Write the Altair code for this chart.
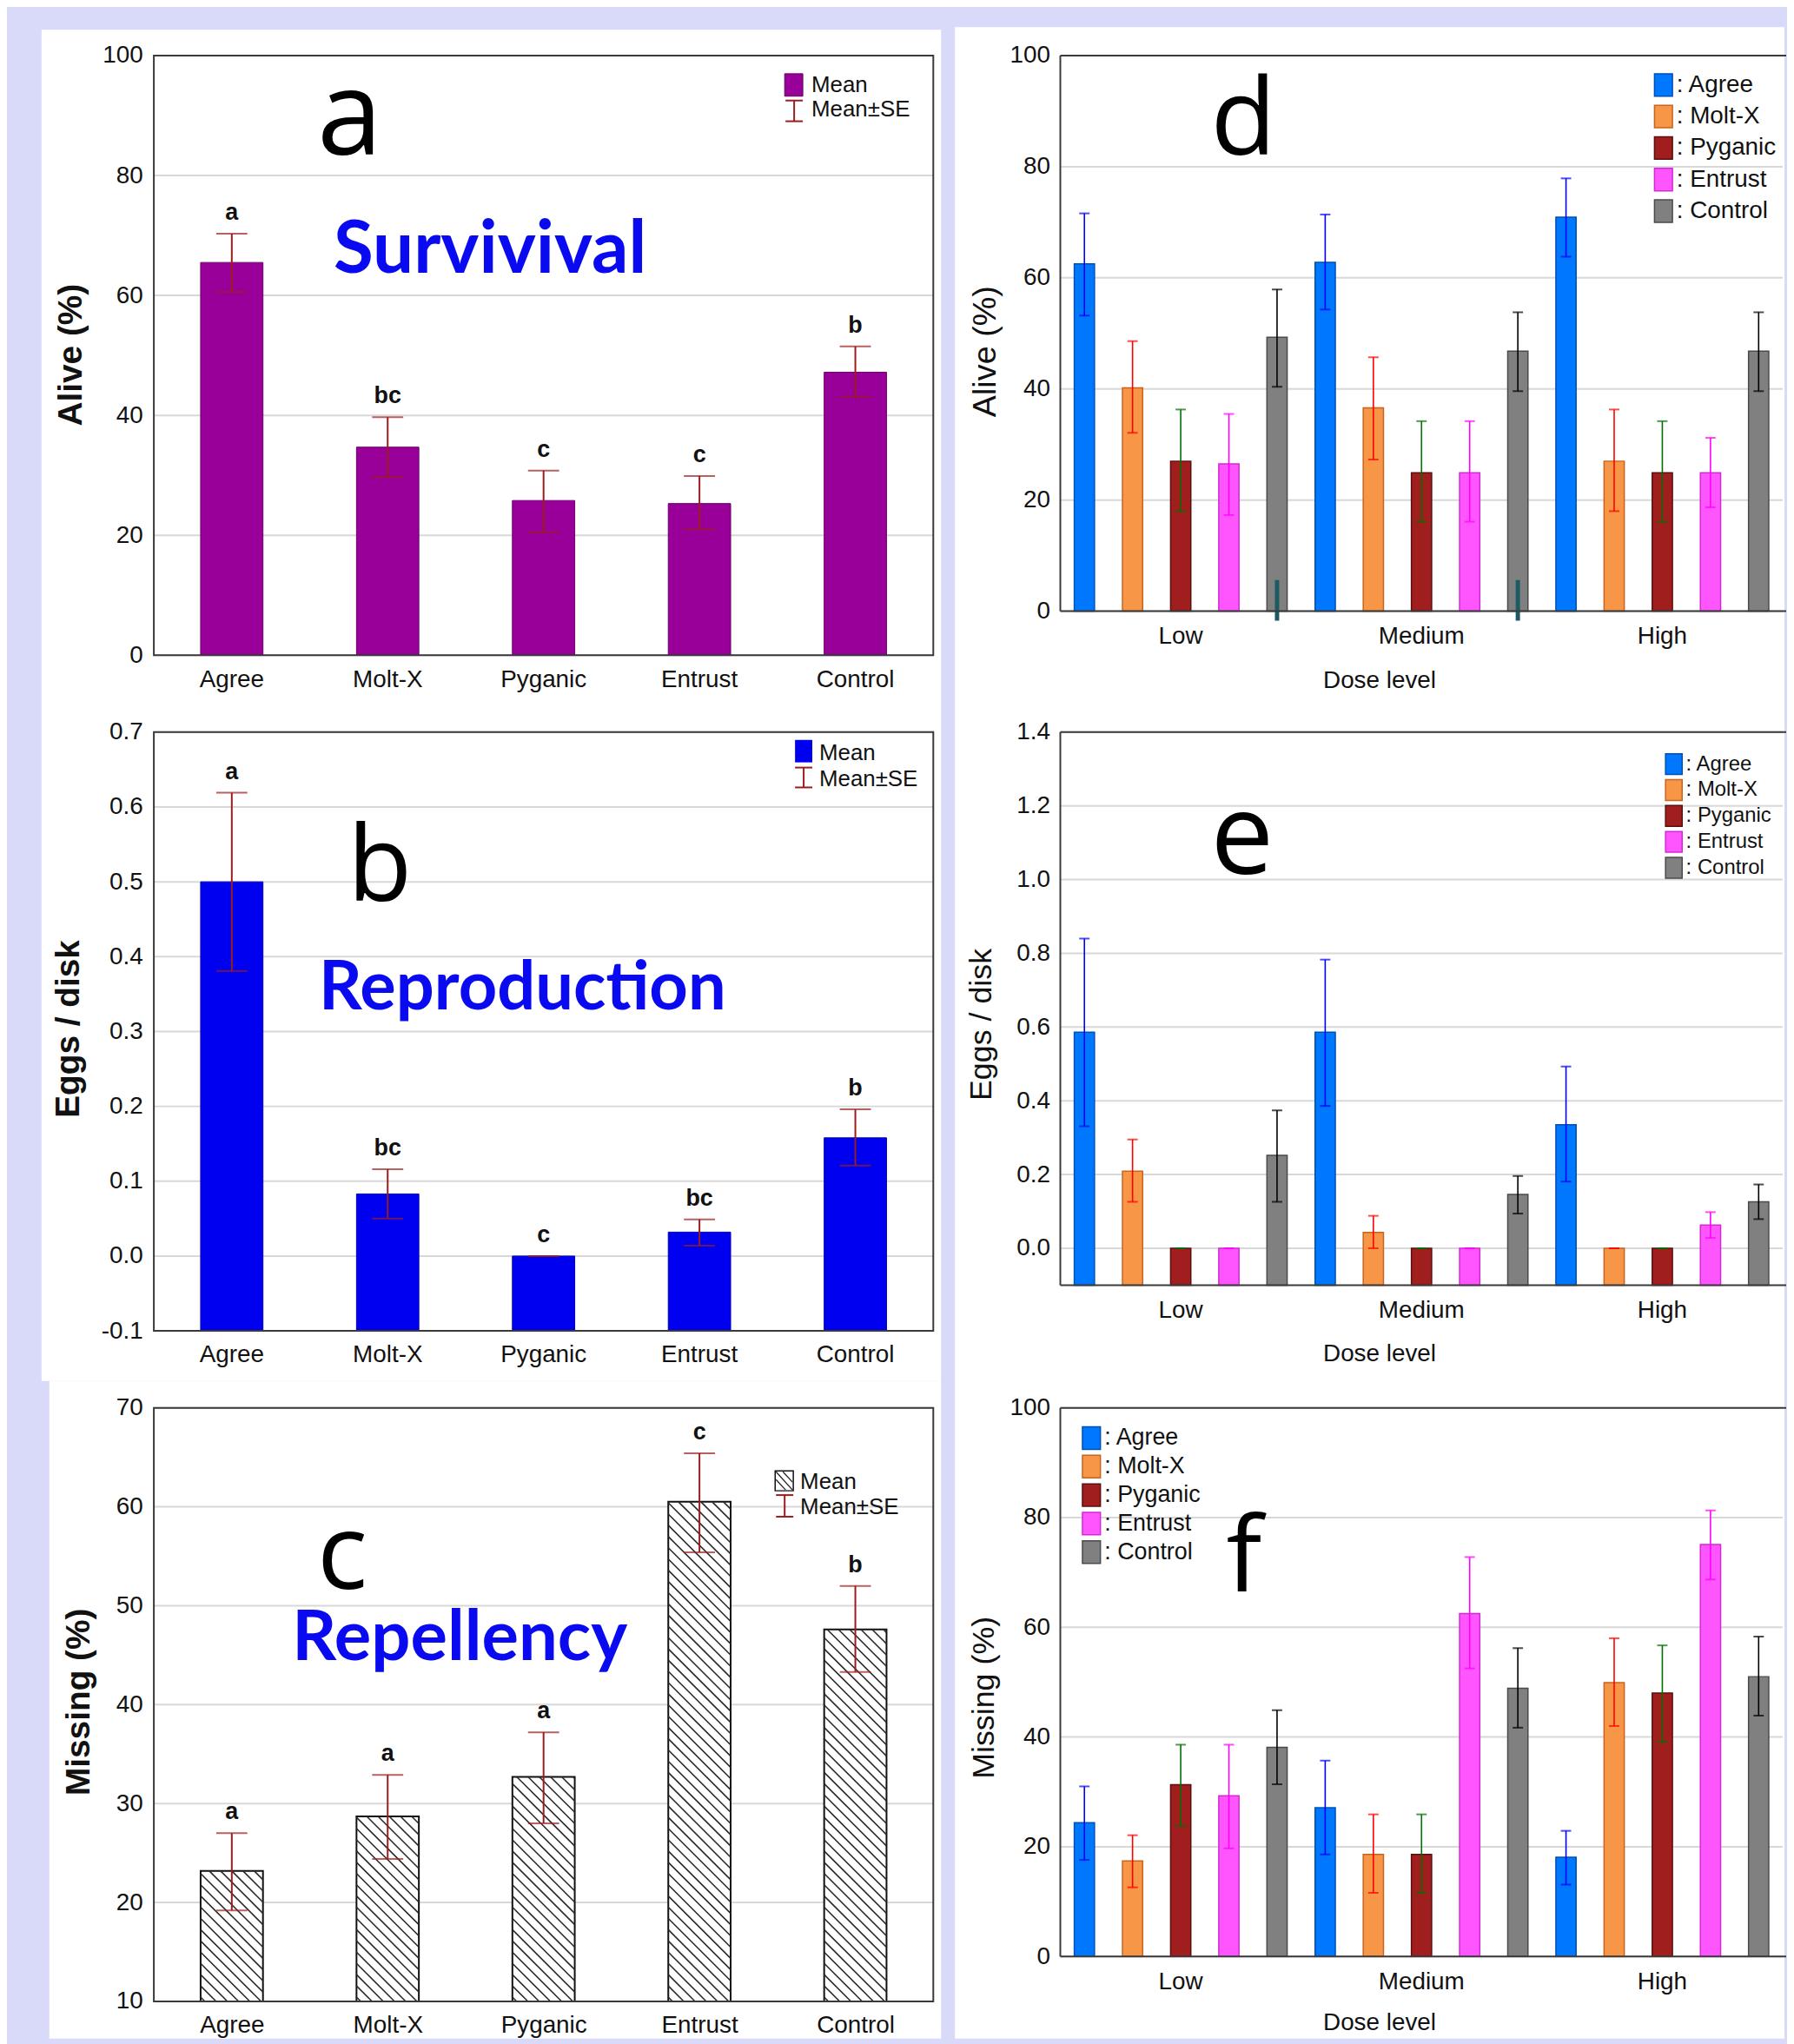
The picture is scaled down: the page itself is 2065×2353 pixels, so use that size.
import json
import altair as alt
import pandas as pd

# ---------------- data ----------------
treat = ["Agree", "Molt-X", "Pyganic", "Entrust", "Control"]
doses = ["Low", "Medium", "High"]

a_mean = [65.5, 34.7, 25.8, 25.3, 47.2]
a_lo = [60.6, 29.7, 20.5, 21.0, 43.1]
a_hi = [70.3, 39.7, 30.8, 29.9, 51.5]
a_letters = ["a", "bc", "c", "c", "b"]
a_ticks = [0, 20, 40, 60, 80, 100]

b_mean = [0.500, 0.083, 0.0, 0.032, 0.158]
b_lo = [0.381, 0.050, 0.0, 0.014, 0.121]
b_hi = [0.619, 0.116, 0.0, 0.049, 0.196]
b_letters = ["a", "bc", "c", "bc", "b"]
b_ticks = [-0.1, 0.0, 0.1, 0.2, 0.3, 0.4, 0.5, 0.6, 0.7]

c_mean = [23.2, 28.7, 32.7, 60.5, 47.6]
c_lo = [19.2, 24.4, 28.0, 55.4, 43.3]
c_hi = [27.0, 32.9, 37.2, 65.4, 52.0]
c_letters = ["a", "a", "a", "c", "b"]
c_ticks = [10, 20, 30, 40, 50, 60, 70]

# right panels: Low (5 treatments), Medium (5), High (5)
d_mean = [62.5, 40.2, 27.0, 26.5, 49.3, 62.8, 36.6, 24.9, 24.9, 46.8, 70.9, 27.0, 24.9, 24.9, 46.8]
d_lo = [53.2, 32.1, 18.0, 17.3, 40.4, 54.3, 27.3, 16.1, 16.1, 39.6, 63.8, 18.0, 16.1, 18.7, 39.6]
d_hi = [71.6, 48.6, 36.3, 35.5, 57.9, 71.4, 45.7, 34.2, 34.2, 53.8, 77.9, 36.3, 34.2, 31.2, 53.8]
d_ticks = [0, 20, 40, 60, 80, 100]

e_mean = [0.586, 0.209, 0.0, 0.0, 0.252, 0.586, 0.043, 0.0, 0.0, 0.146, 0.335, 0.0, 0.0, 0.063, 0.126]
e_lo = [0.331, 0.126, 0.0, 0.0, 0.126, 0.386, 0.0, 0.0, 0.0, 0.094, 0.181, 0.0, 0.0, 0.028, 0.079]
e_hi = [0.840, 0.295, 0.0, 0.0, 0.374, 0.783, 0.088, 0.0, 0.0, 0.196, 0.493, 0.0, 0.0, 0.098, 0.173]
e_ticks = [0.0, 0.2, 0.4, 0.6, 0.8, 1.0, 1.2, 1.4]

f_mean = [24.4, 17.4, 31.3, 29.3, 38.1, 27.1, 18.6, 18.6, 62.5, 48.9, 18.1, 49.9, 48.0, 75.1, 51.0]
f_lo = [17.6, 12.6, 23.8, 19.7, 31.4, 18.6, 11.6, 11.6, 52.5, 41.7, 13.1, 42.0, 39.1, 68.7, 43.9]
f_hi = [31.0, 22.1, 38.6, 38.6, 44.9, 35.7, 25.9, 25.9, 72.8, 56.2, 22.9, 58.0, 56.7, 81.3, 58.3]
f_ticks = [0, 20, 40, 60, 80, 100]

teal_doses = ["Low", "Medium"]
teal_treat = ["Control", "Control"]
legend_words = ["Mean", "Mean\u00b1SE"]

# ---------------- styles ----------------
BG = "#d9d9f9"
FONT = "Liberation Sans"
BIGFONT = "Open Sans"
WORDFONT = "Lato"
TXT = "#111111"
GRID = "#d8d8d8"
FRAME = "#3a3a3a"
ERR = "#9b1c1c"
WORD = "#0a0af0"
fill_colors = ["#0077ff", "#f79646", "#a01e1e", "#ff55ff", "#808080"]
stroke_colors = ["#0050b4", "#c8641e", "#5a1010", "#d22ad2", "#4a4a4a"]
err_colors = ["#0000ff", "#ff0000", "#007000", "#ff00ff", "#000000"]
RECT_PATH = "M-0.8,-1H0.8V1H-0.8Z"
HYPHEN_EXPR = "replace(format(datum.value, '.1f'), '\u2212', '-')"

ONE = alt.Data(values=[{"k": 0}])


def vrect(x, x2, y, y2, **mk):
    return alt.Chart(ONE).mark_rect(**mk).encode(
        x=alt.value(x), x2=alt.value(x2), y=alt.value(y), y2=alt.value(y2))


def vrule(x, x2, y, y2, color, sw):
    return alt.Chart(ONE).mark_rule(color=color, strokeWidth=sw).encode(
        x=alt.value(x), x2=alt.value(x2), y=alt.value(y), y2=alt.value(y2))


def vtext(text, x, y, size, font=FONT, weight="normal", color=TXT):
    return alt.Chart(ONE).mark_text(
        text=text, font=font, fontSize=size, fontWeight=weight, color=color,
        align="left", baseline="alphabetic").encode(x=alt.value(x), y=alt.value(y))


def grid(ticks, ys, W):
    # no axis=None here: in Vega-Lite 6 a null axis in one layer removes the shared axis
    return alt.Chart(pd.DataFrame({"v": ticks})).mark_rule(color=GRID, strokeWidth=2).encode(
        x=alt.value(0), x2=alt.value(W), y=alt.Y("v:Q", scale=ys))


def frame(W, H):
    return [vrect(0, W, 0, H, fill="transparent", stroke=FRAME, strokeWidth=2)]


def open_frame(W, H):
    # the right-hand panels run past the picture's right edge: no right side drawn
    return [vrule(0, W + 4, 0, 0, FRAME, 2), vrule(0, 0, 0, H, FRAME, 2),
            vrule(0, W + 4, H, H, FRAME, 2)]


AXBASE = dict(grid=False, ticks=False, tickSize=0, domain=False, zindex=1,
              labelFont=FONT, labelColor=TXT, titleFont=FONT, titleColor=TXT,
              labelFontSize=28)


def yaxis(ticks, fmt, title, tx, ty, tsize, tweight, lpad, expr=None):
    extra = {"labelExpr": expr} if expr else {}
    return alt.Axis(values=ticks, format=fmt, title=title, titleX=tx, titleY=ty,
                    titleAngle=270, titleAlign="center", titleBaseline="middle",
                    titleFontSize=tsize, titleFontWeight=tweight,
                    labelPadding=lpad, **extra, **AXBASE)


def left_legend(swatch, ex, ecx1, ecx2, ey1, ey2, tx, ty1, ty2):
    return swatch + [
        vrule(ex, ex, ey1, ey2, ERR, 2),
        vrule(ecx1, ecx2, ey1, ey1, ERR, 2),
        vrule(ecx1, ecx2, ey2, ey2, ERR, 2),
        vtext(legend_words[0], tx, ty1, 26),
        vtext(legend_words[1], tx, ty2, 26),
    ]


def left_nominal(mean, lo, hi, letters, ticks, fmt, ymin, ymax, W, H, fill, stroke,
                 ytitle, tx, ty, pre, post, expr=None):
    df = pd.DataFrame({"treat": treat, "mean": mean, "lo": lo, "hi": hi, "letter": letters})
    ys = alt.Scale(domain=[ymin, ymax], nice=False, zero=False)
    xs = alt.Scale(domain=treat, paddingInner=0.6, paddingOuter=0.3)
    X = alt.X("treat:N", sort=treat, scale=xs, title="",
              axis=alt.Axis(labelAngle=0, labelPadding=14, **AXBASE))
    Xn = alt.X("treat:N", sort=treat, scale=xs)
    bars = alt.Chart(df).mark_bar(color=fill, stroke=stroke, strokeWidth=1).encode(
        x=X, y=alt.Y("mean:Q", scale=ys,
                     axis=yaxis(ticks, fmt, ytitle, tx, ty, 39, "bold", 13, expr)),
        y2=alt.datum(ymin))
    err = alt.Chart(df).mark_rule(color=ERR, strokeWidth=2).encode(
        x=Xn, y=alt.Y("lo:Q", scale=ys), y2="hi:Q")
    cap_lo = alt.Chart(df).mark_tick(color=ERR, thickness=2, size=36, orient="horizontal").encode(
        x=Xn, y=alt.Y("lo:Q", scale=ys))
    cap_hi = alt.Chart(df).mark_tick(color=ERR, thickness=2, size=36, orient="horizontal").encode(
        x=Xn, y=alt.Y("hi:Q", scale=ys))
    lett = alt.Chart(df).mark_text(font=FONT, fontSize=27, fontWeight="bold", baseline="alphabetic",
                                   dy=-16, color=TXT).encode(
        x=Xn, y=alt.Y("hi:Q", scale=ys), text="letter:N")
    layers = pre + [grid(ticks, ys, W), bars, err, cap_lo, cap_hi, lett] + frame(W, H) + post
    return alt.layer(*layers).properties(width=W, height=H)


# ---------------- panel a ----------------
WL, HA, HB, HC = 902, 694, 693, 687
pa = left_nominal(
    a_mean, a_lo, a_hi, a_letters, a_ticks, "d", 0, 100, WL, HA, "#990099", "#6a006a",
    "Alive (%)", -96, 346,
    pre=[vrect(-170, 1887, -50, 2295, fill=BG), vrect(-130, 911, -30, 1534, fill="white")],
    post=[vtext("a", 189, 115, 136, font=BIGFONT, color="#000000"),
          vtext("Survivival", 208, 251, 84, font=WORDFONT, weight="bold", color=WORD)]
    + left_legend([vrect(730, 751, 21, 47, fill="#990099", stroke="#5a005a", strokeWidth=1)],
                  741, 731, 751, 52, 76, 761, 42, 70))

# ---------------- panel b ----------------
pb = left_nominal(
    b_mean, b_lo, b_hi, b_letters, b_ticks, ".1f", -0.1, 0.7, WL, HB, "#0000f0", "#0000b0",
    "Eggs / disk", -99, 343,
    pre=[],
    post=[vtext("b", 224, 195, 122, font=BIGFONT, color="#000000"),
          vtext("Reproduction", 191, 321, 78, font=WORDFONT, weight="bold", color=WORD)]
    + left_legend([vrect(742, 762, 9, 35, fill="#0000f0")],
                  752, 742, 762, 41, 64, 770, 32, 63),
    expr=HYPHEN_EXPR)

# ---------------- panel c (hatched) ----------------
HXU = WL / 5.0
HYU = HC / 60.0
dfc = pd.DataFrame({"pos": list(range(5)), "mean": c_mean, "lo": c_lo, "hi": c_hi,
                    "letter": c_letters})
dfc["xl"] = dfc["pos"] - 0.2
dfc["xr"] = dfc["pos"] + 0.2
hatch_rows = []
bwp = 0.4 * HXU
for i, m in enumerate(c_mean):
    hp = (m - 10) * HYU
    cc = 5.0
    while cc < bwp + hp:
        u1, u2 = max(0.0, cc - hp), min(bwp, cc)
        if u2 > u1:
            hatch_rows.append({"x1": i - 0.2 + u1 / HXU, "x2": i - 0.2 + u2 / HXU,
                               "y1": 10 + (cc - u1) / HYU, "y2": 10 + (cc - u2) / HYU})
        cc += 13.0
dfh = pd.DataFrame(hatch_rows)

ysc = alt.Scale(domain=[10, 70], nice=False, zero=False)
xsc = alt.Scale(domain=[-0.5, 4.5], nice=False, zero=False)
label_expr = json.dumps(treat) + "[datum.value]"
Xc = alt.X("xl:Q", scale=xsc, title="",
           axis=alt.Axis(values=[0, 1, 2, 3, 4], labelExpr=label_expr,
                         labelPadding=14, labelFlush=False, **AXBASE))
c_bars = alt.Chart(dfc).mark_rect(fill="white", stroke="#111111", strokeWidth=2).encode(
    x=Xc, x2="xr:Q",
    y=alt.Y("mean:Q", scale=ysc, axis=yaxis(c_ticks, "d", "Missing (%)", -87, 340, 39, "bold", 13)),
    y2=alt.datum(10))
c_hatch = alt.Chart(dfh).mark_rule(color="#2a2a2a", strokeWidth=1.6).encode(
    x=alt.X("x1:Q", scale=xsc), x2="x2:Q",
    y=alt.Y("y1:Q", scale=ysc), y2="y2:Q")
Xcp = alt.X("pos:Q", scale=xsc)
c_err = alt.Chart(dfc).mark_rule(color=ERR, strokeWidth=2).encode(
    x=Xcp, y=alt.Y("lo:Q", scale=ysc), y2="hi:Q")
c_cap_lo = alt.Chart(dfc).mark_tick(color=ERR, thickness=2, size=36, orient="horizontal").encode(
    x=Xcp, y=alt.Y("lo:Q", scale=ysc))
c_cap_hi = alt.Chart(dfc).mark_tick(color=ERR, thickness=2, size=36, orient="horizontal").encode(
    x=Xcp, y=alt.Y("hi:Q", scale=ysc))
c_lett = alt.Chart(dfc).mark_text(font=FONT, fontSize=27, fontWeight="bold", baseline="alphabetic",
                                  dy=-16, color=TXT).encode(
    x=Xcp, y=alt.Y("hi:Q", scale=ysc), text="letter:N")
c_swatch = [vrect(719, 740, 73, 96, fill="white", stroke="#111111", strokeWidth=1.5),
            vrule(720, 739, 74, 95, "#222222", 1.3),
            vrule(728, 739, 74, 86, "#222222", 1.3),
            vrule(720, 731, 83, 95, "#222222", 1.3)]
pc = alt.layer(
    vrect(-121, 911, -31, 730, fill="white"),
    grid(c_ticks, ysc, WL), c_bars, c_hatch, c_err, c_cap_lo, c_cap_hi, c_lett, *frame(WL, HC),
    vtext("c", 189, 209, 122, font=BIGFONT, color="#000000"),
    vtext("Repellency", 160, 292, 80, font=WORDFONT, weight="bold", color=WORD),
    *left_legend(c_swatch, 730, 720, 740, 101, 126, 748, 94, 123)
).properties(width=WL, height=HC)


# ---------------- right panels ----------------
def right_panel(mean, lo, hi, ticks, fmt, ymin, ymax, W, H, ytitle, tsize, tx, ty, xty,
                legx, legy, legfont, legsym, legpad, pre, post):
    df = pd.DataFrame({"dose": [d for d in doses for _ in treat], "treat": treat * 3,
                       "mean": mean, "lo": lo, "hi": hi})
    ys = alt.Scale(domain=[ymin, ymax], nice=False, zero=False)
    xs = alt.Scale(domain=doses, paddingInner=0, paddingOuter=0)
    osc = alt.Scale(domain=treat, paddingInner=0.58, paddingOuter=0.29)
    X = alt.X("dose:N", sort=doses, scale=xs,
              axis=alt.Axis(title="Dose level", titleX=369, titleY=xty, titleAlign="center",
                            titleBaseline="middle", titleFontSize=28, titleFontWeight="normal",
                            labelAngle=0, labelPadding=15, **AXBASE))
    Xn = alt.X("dose:N", sort=doses, scale=xs)
    XO = alt.XOffset("treat:N", sort=treat, scale=osc)
    leg = alt.Legend(orient="none", legendX=legx, legendY=legy, title=None,
                     labelExpr="': ' + datum.label", labelFont=FONT, labelFontSize=legfont,
                     labelColor=TXT, labelOffset=1, symbolType=RECT_PATH,
                     symbolSize=legsym * legsym, symbolStrokeWidth=1.5, rowPadding=legpad,
                     padding=0)
    bars = alt.Chart(df).mark_bar(strokeWidth=1.5).encode(
        x=X, xOffset=XO,
        y=alt.Y("mean:Q", scale=ys, axis=yaxis(ticks, fmt, ytitle, tx, ty, tsize, "normal", 12)),
        y2=alt.datum(ymin),
        fill=alt.Fill("treat:N", sort=treat, scale=alt.Scale(domain=treat, range=fill_colors),
                      legend=leg),
        stroke=alt.Stroke("treat:N", sort=treat, scale=alt.Scale(domain=treat, range=stroke_colors),
                          legend=leg))
    ecol = alt.Color("treat:N", sort=treat, scale=alt.Scale(domain=treat, range=err_colors),
                     legend=None)
    err = alt.Chart(df).mark_rule(strokeWidth=1.6).encode(
        x=Xn, xOffset=XO, y=alt.Y("lo:Q", scale=ys), y2="hi:Q", color=ecol)
    cap_lo = alt.Chart(df).mark_tick(thickness=2, size=12, orient="horizontal").encode(
        x=Xn, xOffset=XO, y=alt.Y("lo:Q", scale=ys), color=ecol)
    cap_hi = alt.Chart(df).mark_tick(thickness=2, size=12, orient="horizontal").encode(
        x=Xn, xOffset=XO, y=alt.Y("hi:Q", scale=ys), color=ecol)
    layers = pre + [grid(ticks, ys, W), bars, err, cap_lo, cap_hi]
    extra = []
    if post == "teal":
        dft = pd.DataFrame({"dose": teal_doses, "treat": teal_treat})
        extra.append(alt.Chart(dft).mark_rule(color="#1e5a64", strokeWidth=5).encode(
            x=Xn, xOffset=XO, y=alt.datum(5.6), y2=alt.value(H + 11)))
    layers = layers + extra + open_frame(W, H)
    return layers


WR, HD, HE, HF = 836, 643, 640, 635
pd_layers = right_panel(d_mean, d_lo, d_hi, d_ticks, "d", 0, 100, WR, HD, "Alive (%)", 38, -86, 342, 80,
                        684, 20, 28, 26, 4.5,
                        pre=[vrect(-122, 838, -33, 2295, fill="white")], post="teal")
pdd = alt.layer(*pd_layers, vtext("d", 174, 115, 124, font=BIGFONT, color="#000000")
                ).properties(width=WR, height=HD)

pe_layers = right_panel(e_mean, e_lo, e_hi, e_ticks, ".1f", -0.1, 1.4, WR, HE, "Eggs / disk", 36, -91, 338, 80,
                        697, 24, 24, 24, 0, pre=[], post="")
pe = alt.layer(*pe_layers, vtext("e", 174, 164, 130, font=BIGFONT, color="#000000")
               ).properties(width=WR, height=HE)

pf_layers = right_panel(f_mean, f_lo, f_hi, f_ticks, "d", 0, 100, WR, HF, "Missing (%)", 36, -88, 335, 77,
                        22, 21, 27, 26, 1, pre=[], post="")
pf = alt.layer(*pf_layers, vtext("f", 192, 213, 122, font=BIGFONT, color="#000000")
               ).properties(width=WR, height=HF)

chart = alt.concat(
    pa, pdd, pb, pe, pc, pf, columns=2, spacing={"row": 89, "column": 147}, bounds="flush"
).resolve_scale(
    x="independent", y="independent", fill="independent", stroke="independent", color="independent"
).resolve_legend(
    fill="independent", stroke="independent", color="independent"
).properties(
    padding=0, background=BG
).configure_view(strokeWidth=0)

chart.save("out.html", embed_options={"renderer": "svg", "actions": False})
